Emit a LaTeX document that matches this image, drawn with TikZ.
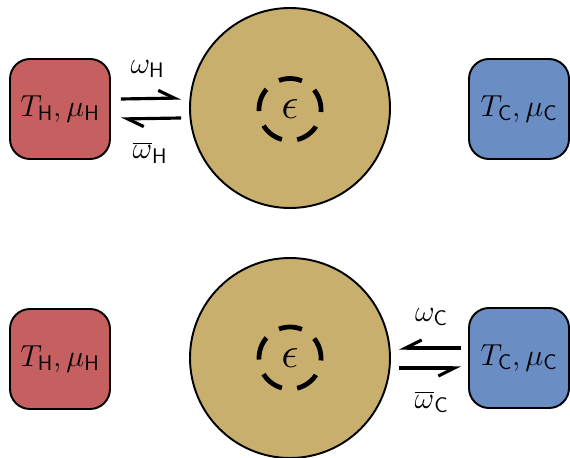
\documentclass[tikz,border=0pt]{standalone}
\usepackage{tikz}
\usetikzlibrary{arrows.meta, positioning}
\definecolor{hotcolor} {RGB}{198, 96, 96}
\definecolor{dotcolor} {RGB}{200, 175, 110}
\definecolor{coldcolor}{RGB}{106, 141, 196}
\tikzset{
	resblock/.style={
		rectangle, rounded corners=0.4cm,
		minimum width=2cm, minimum height=2cm,
		align=center, font=\LARGE,
		draw=black, line width=1.1pt
	},
	dotblock/.style={
		circle, minimum size=4cm, inner sep=0pt,
		fill=dotcolor, draw=black, line width=1.1pt
	},
	ring/.style={
		circle, minimum size=1.24cm, inner sep=0pt,
		draw=black, line width=2.7pt, font=\Huge,
		dash pattern=on 0.47cm off 0.309cm, dash phase=0.05cm
	},
	harpl/.style={
		-{Straight Barb[left, length=0.32cm, width=0.32cm]}, line width=1.8pt
	},
	harpr/.style={
		-{Straight Barb[right, length=0.32cm, width=0.32cm]}, line width=1.8pt
	},
	ratelabel/.style={
		font=\LARGE, inner sep=0pt
	}
}

\begin{document}
\begin{tikzpicture}
		\useasboundingbox (0,0) rectangle (11.4,-9.16);
		%% ═══════════════════════════════
		%%  ROW 1 — hot lead coupled
		%% ═══════════════════════════════
		\node[resblock, fill=hotcolor]  (hotA)  at (1.2,-2.18)   {$T_{\mathsf{H}},\mu_{\mathsf{H}}$};
		\node[dotblock]                 (dotA)  at (5.8,-2.16)   {};
		\node[ring]                     (ringA) at (5.8,-2.19)   {$\epsilon$};
		\node[resblock, fill=coldcolor] (coldA) at (10.38,-2.18) {$T_{\mathsf{C}},\mu_{\mathsf{C}}$};
		
		%% ═══════════════════════════════
		%%  ROW 2 — cold lead coupled
		%% ═══════════════════════════════
		\node[resblock, fill=hotcolor]  (hotB)  at (1.2,-7.18)   {$T_{\mathsf{H}},\mu_{\mathsf{H}}$};
		\node[dotblock]                 (dotB)  at (5.8,-7.16)   {};
		\node[ring]                     (ringB) at (5.8,-7.16)   {$\epsilon$};
		\node[resblock, fill=coldcolor] (coldB) at (10.38,-7.16) {$T_{\mathsf{C}},\mu_{\mathsf{C}}$};
		
		%% ═══════════════════════════════
		%%  RATES
		%% ═══════════════════════════════
		\node[ratelabel] (wHin)  at (2.95,-1.38) {$\omega_{\mathsf{H}}$};
		\node[ratelabel] (wHout) at (3.0,-3.05)  {$\overline{\omega}_{\mathsf{H}}$};
		\node[ratelabel] (wCin)  at (8.63,-6.34) {$\omega_{\mathsf{C}}$};
		\node[ratelabel] (wCout) at (8.63,-8.04) {$\overline{\omega}_{\mathsf{C}}$};
		
		%% ═══════════════════════════════
		%%  ARROWS
		%% ═══════════════════════════════
		
		% hot lead <-> dot
		\draw[harpl] ([shift={(0.2,0.2)}]hotA.east) -- ([shift={(-0.16,0.2)}]dotA.west);
		\draw[harpl] ([shift={(-0.16,-0.2)}]dotA.west) -- ([shift={(0.2,-0.2)}]hotA.east);
		
		% dot <-> cold lead
		\draw[harpr] ([shift={(-0.14,0.2)}]coldB.west) -- ([shift={(0.16,0.2)}]dotB.east);
		\draw[harpr] ([shift={(0.16,-0.2)}]dotB.east) -- ([shift={(-0.14,-0.2)}]coldB.west);
		
\end{tikzpicture}
\end{document}
